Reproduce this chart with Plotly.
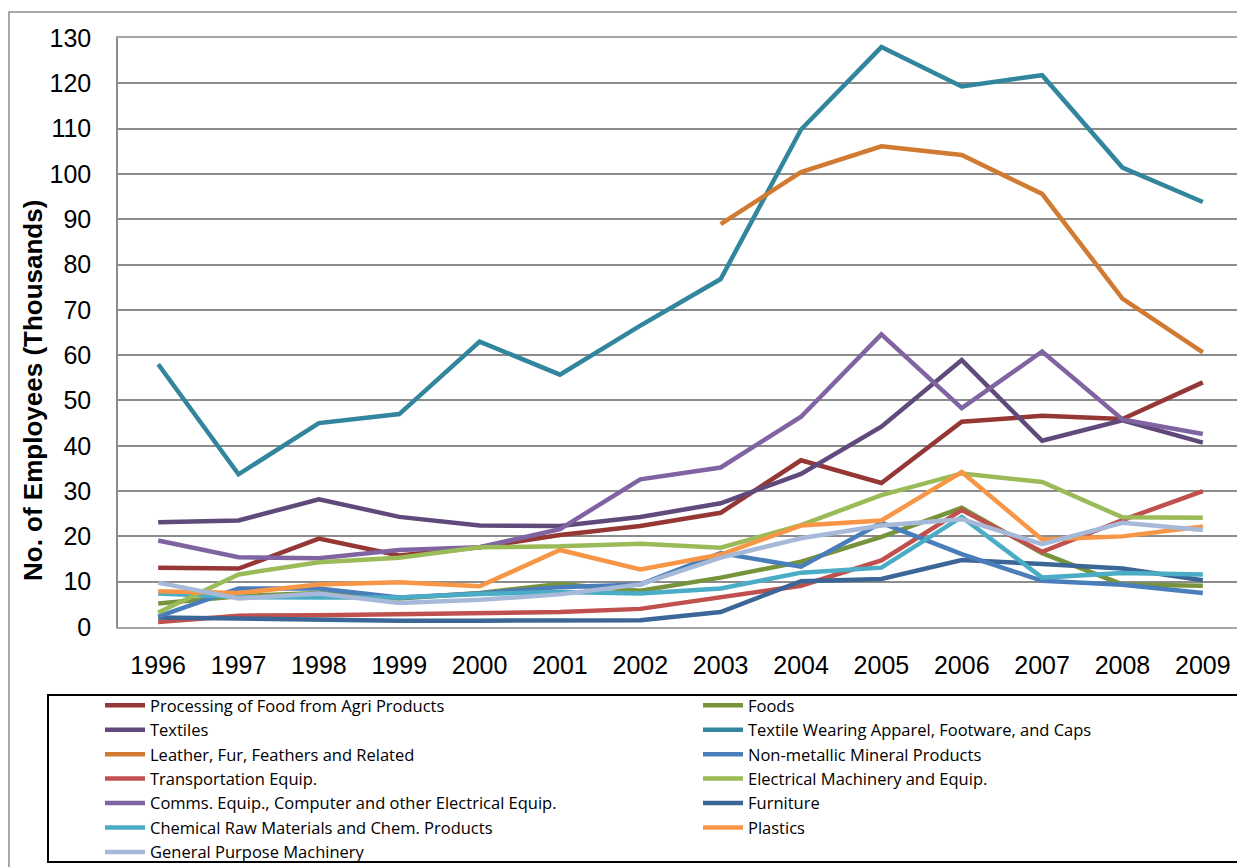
import plotly.graph_objects as go

years = [str(y) for y in range(1996, 2010)]

processing_food = [13.1, 12.9, 19.5, 15.8, 17.6, 20.3, 22.3, 25.2, 36.8, 31.8, 45.3, 46.6, 45.9, 54.0]
foods = [5.2, 6.8, 7.5, 6.3, 7.5, 9.5, 8.0, 10.9, 14.4, 19.9, 26.3, 16.3, 9.4, 9.1]
textiles = [23.1, 23.5, 28.2, 24.3, 22.4, 22.3, 24.3, 27.3, 33.8, 44.2, 58.9, 41.1, 45.6, 40.7]
textile_apparel = [58.0, 33.7, 45.0, 47.0, 63.0, 55.7, 66.5, 76.8, 109.8, 128.0, 119.3, 121.8, 101.4, 93.8]
leather = [None, None, None, None, None, None, None, 88.9, 100.4, 106.1, 104.2, 95.6, 72.5, 60.6]
non_metallic = [2.3, 8.5, 8.5, 6.5, 7.4, 8.8, 9.4, 16.3, 13.3, 23.0, 16.1, 10.2, 9.3, 7.5]
transport = [1.1, 2.5, 2.6, 2.8, 2.9, 3.3, 4.0, 6.5, 9.1, 14.7, 25.8, 16.6, 23.6, 30.0]
electrical = [3.2, 11.6, 14.3, 15.3, 17.6, 17.8, 18.4, 17.5, 22.5, 29.1, 33.9, 32.0, 24.2, 24.1]
comms = [19.1, 15.4, 15.2, 17.0, 17.6, 21.6, 32.6, 35.2, 46.4, 64.6, 48.3, 60.8, 45.8, 42.6]
furniture = [2.1, 1.8, 1.6, 1.4, 1.4, 1.4, 1.5, 3.3, 10.1, 10.6, 14.8, 13.9, 12.9, 10.3]
chemical = [7.4, 6.6, 6.5, 6.5, 7.3, 7.7, 7.4, 8.5, 12.0, 13.1, 24.3, 10.9, 11.9, 11.6]
plastics = [7.9, 7.5, 9.4, 9.9, 9.0, 17.0, 12.7, 16.0, 22.4, 23.5, 34.2, 19.3, 20.0, 22.2]
general_machinery = [9.8, 6.3, 7.4, 5.3, 6.0, 7.2, 9.4, 15.3, 19.6, 22.4, 23.8, 18.3, 23.0, 21.4]

series_names = [
    "Processing of Food from Agri Products",
    "Foods",
    "Textiles",
    "Textile Wearing Apparel, Footware, and Caps",
    "Leather, Fur, Feathers and Related",
    "Non-metallic Mineral Products",
    "Transportation Equip.",
    "Electrical Machinery and Equip.",
    "Comms. Equip., Computer and other Electrical Equip.",
    "Furniture",
    "Chemical Raw Materials and Chem. Products",
    "Plastics",
    "General Purpose Machinery",
]
series_values = [
    processing_food, foods, textiles, textile_apparel, leather, non_metallic,
    transport, electrical, comms, furniture, chemical, plastics, general_machinery,
]
series_colors = [
    "#953735", "#77933C", "#604A7B", "#31859C", "#D07A32", "#4A7EBB",
    "#C0504D", "#9BBB59", "#8064A2", "#3B6697", "#4BACC6", "#F79646", "#A7B9D8",
]

# drawing order (later = on top), roughly following the reference
draw_order = [3, 4, 0, 2, 8, 1, 6, 9, 5, 10, 7, 11, 12]

fig = go.Figure()
for i in range(len(series_names)):
    fig.add_trace(go.Scatter(
        x=years, y=series_values[i], name=series_names[i], mode="lines",
        line=dict(color=series_colors[i], width=4.5),
        legendrank=i + 1,
    ))
fig.data = tuple(fig.data[k] for k in draw_order)

# the page body adds an 8px margin; work in reference pixels and shift
OFF = 8
W, H = 1245 - OFF, 867 - OFF
L, R, T, B = 118 - OFF, 1243 - OFF, 38 - OFF, 627 - OFF
pw, ph = R - L, B - T

def px(x):
    return (x - OFF - L) / pw

def py(y):
    return (B - (y - OFF)) / ph

fig.update_layout(
    width=W, height=H,
    margin=dict(l=L, r=W - R, t=T, b=H - B, autoexpand=False),
    paper_bgcolor="white", plot_bgcolor="white",
    font=dict(family="Liberation Sans, Arial, sans-serif", color="black"),
    showlegend=True,
    legend=dict(
        orientation="h",
        x=px(100), xanchor="left",
        y=py(688), yanchor="top",
        entrywidth=543, entrywidthmode="pixels",
        itemwidth=40,
        font=dict(family="Open Sans, sans-serif", size=16.5, color="black"),
        traceorder="normal",
        bgcolor="rgba(0,0,0,0)",
        borderwidth=0,
        tracegroupgap=0,
    ),
    xaxis=dict(
        type="category", range=[-0.5, 13.5],
        showgrid=False, zeroline=False,
        showline=True, linecolor="#A6A6A6", linewidth=1.5, mirror=True,
        ticks="", tickfont=dict(size=25, family="Liberation Sans, Arial"),
        ticklabelstandoff=15,
    ),
    yaxis=dict(
        range=[0, 130], dtick=10, tick0=0,
        showgrid=True, gridcolor="#8C8C8C", gridwidth=2,
        zeroline=False,
        showline=True, linecolor="#8C8C8C", linewidth=1.5, mirror=True,
        ticks="", tickfont=dict(size=25, family="Liberation Sans, Arial"),
        ticklabelstandoff=20,
    ),
    annotations=[dict(
        text="<b>No. of Employees (Thousands)</b>",
        xref="paper", yref="paper", x=px(33), y=py(391),
        xanchor="center", yanchor="middle", textangle=-90, showarrow=False,
        font=dict(size=26, family="Liberation Sans, Arial", color="black"),
    )],
    shapes=[
        dict(type="rect", xref="paper", yref="paper",
             x0=px(9), x1=px(1243), y0=py(12), y1=py(880),
             line=dict(color="#8C8C8C", width=1.5), fillcolor="rgba(0,0,0,0)", layer="below"),
        dict(type="rect", xref="paper", yref="paper",
             x0=px(48), x1=px(1240), y0=py(695), y1=py(862),
             line=dict(color="black", width=2), fillcolor="rgba(0,0,0,0)"),
    ],
)

fig.write_html("out.html")
